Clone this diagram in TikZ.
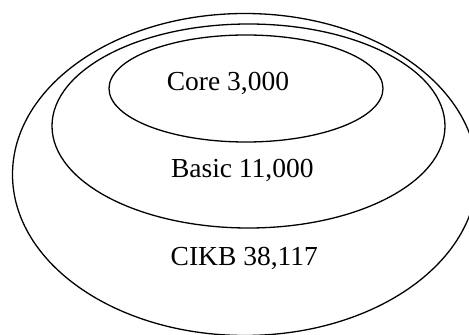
\documentclass[tikz,border=0pt]{standalone}
\usepackage{fontspec}
\setmainfont{Liberation Serif}
\usetikzlibrary{shapes.geometric}

\begin{document}
\begin{tikzpicture}[
  x=1pt, y=1pt,
  ring/.style={draw, ellipse, line width=1.3pt, inner sep=0pt},
  label/.style={anchor=base, inner sep=0pt, font=\fontsize{27.5}{33}\selectfont}
]
\useasboundingbox (0,0) rectangle (469,335);
\clip (0,0) rectangle (469,335);
\node[ring, minimum width=464.6pt, minimum height=322pt] (cikb) at (244.8,160.5) {};
\node[ring, minimum width=393pt, minimum height=204pt] (basic) at (248.5,209) {};
\node[ring, minimum width=274pt, minimum height=107pt] (core) at (246,246.5) {};
\node[label] (coretext) at (228,244.3) {Core 3,000};
\node[label] (basictext) at (242.3,157.3) {Basic 11,000};
\node[label] (cikbtext) at (244.3,69.3) {CIKB 38,117};
\end{tikzpicture}
\end{document}
